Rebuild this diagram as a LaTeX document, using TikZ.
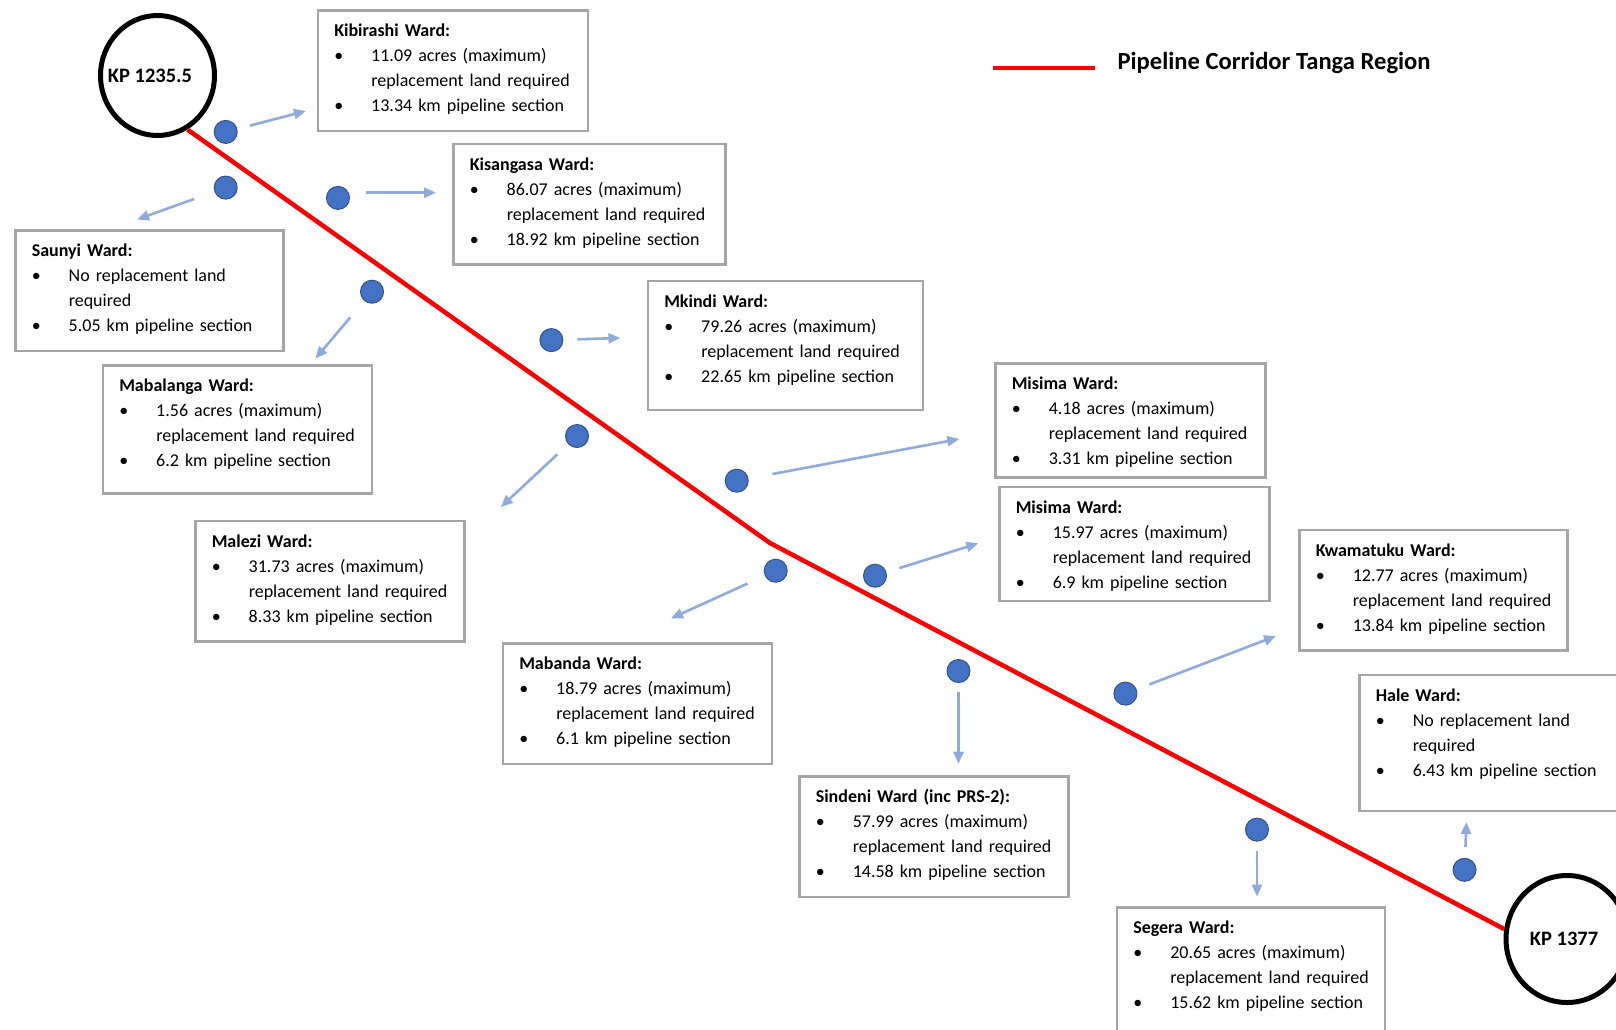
\documentclass[tikz,border=0pt]{standalone}
\usepackage{fontspec}
\setmainfont{Carlito}
\usetikzlibrary{arrows.meta,shapes.geometric}

\definecolor{pipered}{RGB}{255,0,0}
\definecolor{dotblue}{RGB}{68,114,196}
\definecolor{dotedge}{RGB}{47,82,143}
\definecolor{flowblue}{RGB}{143,170,220}
\definecolor{boxgray}{RGB}{165,165,165}

\newcommand{\wbul}{\makebox[37pt][l]{\textbullet}}
\newcommand{\wind}{\hspace*{37pt}}
\newcommand{\wardinfo}[5][6.5pt]{%
  \rule{0pt}{14pt}\textbf{#2}\\
  \wbul\mbox{#3}\\
  \wind\mbox{#4}\\
  \smash{\wbul\mbox{#5}}\rule[-#1]{0pt}{0pt}}

\tikzset{
  ward/.style={draw=boxgray, line width=2.5pt, anchor=north west, align=left,
    inner xsep=16.5pt, inner ysep=12.5pt, text width=#1,
    font=\fontsize{18}{25}\selectfont},
  ward/.default=237pt,
  spot/.style={circle, draw=dotedge, line width=1pt, fill=dotblue,
    minimum size=23pt, inner sep=0pt},
  flow/.style={draw=flowblue, line width=2.6pt, -{Triangle[length=12pt,width=10pt]}},
  pipe/.style={draw=pipered, line width=4.5pt},
  kp/.style={ellipse, draw, fill=white, line width=5pt, inner sep=0pt,
    font=\fontsize{20.5}{24}\selectfont\bfseries},
}

\begin{document}
\begin{tikzpicture}[x=1pt,y=-1pt]
\useasboundingbox (0,0) rectangle (1616,1029);

% pipeline and end points
\node[kp, minimum width=114pt, minimum height=120pt] (kpA) at (157.5,75.5) {\makebox[0pt]{\hspace*{-15pt}KP 1235.5}};
\node[kp, minimum width=122pt, minimum height=127pt] (kpB) at (1567,939) {\makebox[0pt]{\hspace*{-6pt}KP 1377}};
\coordinate (bend) at (770,543);
\draw[pipe] (kpA.-61) -- (bend) -- (kpB.171);

% legend
\coordinate (legA) at (993,67.5);
\coordinate (legB) at (1095,67.5);
\draw[pipe, line width=4pt] (legA) -- (legB);
\node[anchor=base west, font=\fontsize{24.6}{28}\selectfont\bfseries] (legend) at (1114,69.5) {Pipeline Corridor Tanga Region};

% ward boxes
\node[ward] (kibirashi) at (316.5,9) {\wardinfo{Kibirashi Ward:}{11.09 acres (maximum)}{replacement land required}{13.34 km pipeline section}};
\node[ward=239pt] (kisangasa) at (452,142.5) {\wardinfo{Kisangasa Ward:}{86.07 acres (maximum)}{replacement land required}{18.92 km pipeline section}};
\node[ward=235pt] (saunyi) at (14,229) {\wardinfo{Saunyi Ward:}{No replacement land}{required}{5.05 km pipeline section}};
\node[ward=242pt] (mkindi) at (646.5,279.5) {\wardinfo[15pt]{Mkindi Ward:}{79.26 acres (maximum)}{replacement land required}{22.65 km pipeline section}};
\node[ward=236pt] (mabalanga) at (101.5,364) {\wardinfo[14pt]{Mabalanga Ward:}{1.56 acres (maximum)}{replacement land required}{6.2 km pipeline section}};
\node[ward] (misimaA) at (994,362) {\wardinfo[0pt]{Misima Ward:}{4.18 acres (maximum)}{replacement land required}{3.31 km pipeline section}};
\node[ward] (misimaB) at (998,485.5) {\wardinfo[0pt]{Misima Ward:}{15.97 acres (maximum)}{replacement land required}{6.9 km pipeline section}};
\node[ward=236pt] (malezi) at (194,519.5) {\wardinfo{Malezi Ward:}{31.73 acres (maximum)}{replacement land required}{8.33 km pipeline section}};
\node[ward=235pt] (kwamatuku) at (1298,528.5) {\wardinfo{Kwamatuku Ward:}{12.77 acres (maximum)}{replacement land required}{13.84 km pipeline section}};
\node[ward=236pt] (mabanda) at (501.5,642) {\wardinfo{Mabanda Ward:}{18.79 acres (maximum)}{replacement land required}{6.1 km pipeline section}};
\node[ward=267pt] (hale) at (1358,673.5) {\wardinfo[22pt]{Hale Ward:}{No replacement land}{required}{6.43 km pipeline section}};
\node[ward=236pt] (sindeni) at (798,775) {\wardinfo{Sindeni Ward (inc PRS-2):}{57.99 acres (maximum)}{replacement land required}{14.58 km pipeline section}};
\node[ward=235pt] (segera) at (1115.5,906) {\wardinfo[30pt]{Segera Ward:}{20.65 acres (maximum)}{replacement land required}{15.62 km pipeline section}};

% markers along the route
\node[spot] (d1) at (225.7,131.9) {};
\node[spot] (d2) at (225.7,187.6) {};
\node[spot] (d3) at (338,197.9) {};
\node[spot] (d4) at (372,291.7) {};
\node[spot] (d5) at (551.4,340.1) {};
\node[spot] (d6) at (577,436) {};
\node[spot] (d7) at (736.7,480.7) {};
\node[spot] (d8) at (775.7,570.7) {};
\node[spot] (d9) at (875,575.7) {};
\node[spot] (d10) at (958.5,671) {};
\node[spot] (d11) at (1125.4,693.6) {};
\node[spot] (d12) at (1257,829.6) {};
\node[spot] (d13) at (1464.5,869.8) {};

% arrow tips
\coordinate (e1) at (306,111);
\coordinate (e2) at (137,219.5);
\coordinate (e3) at (436,192.7);
\coordinate (e4) at (315.4,358.6);
\coordinate (e5) at (620.4,338);
\coordinate (e6) at (500.9,507);
\coordinate (e7) at (959.3,439);
\coordinate (e8) at (671,618.4);
\coordinate (e9) at (978.3,543.3);
\coordinate (e10) at (958.5,763.7);
\coordinate (e11) at (1276,636);
\coordinate (e12) at (1257,896.6);
\coordinate (e13) at (1466.5,822);

\draw[flow, shorten <=13pt] (d1) -- (e1);
\draw[flow, shorten <=21.5pt] (d2) -- (e2);
\draw[flow, shorten <=16pt] ([yshift=5.2pt]d3.east) -- (e3);
\draw[flow, shorten <=21.8pt] (d4) -- (e4);
\draw[flow, shorten <=14pt] (d5) -- (e5);
\draw[flow, shorten <=15pt] (d6) -- (e6);
\draw[flow, shorten <=24.4pt] (d7) -- (e7);
\draw[flow, shorten <=19pt] (d8) -- (e8);
\draw[flow, shorten <=13.4pt] (d9) -- (e9);
\draw[flow, shorten <=9pt] (d10) -- (e10);
\draw[flow, shorten <=13.7pt] (d11) -- (e11);
\draw[flow, shorten <=9pt] (d12) -- (e12);
\draw[flow, shorten <=11pt] (d13) -- (e13);
\end{tikzpicture}
\end{document}
